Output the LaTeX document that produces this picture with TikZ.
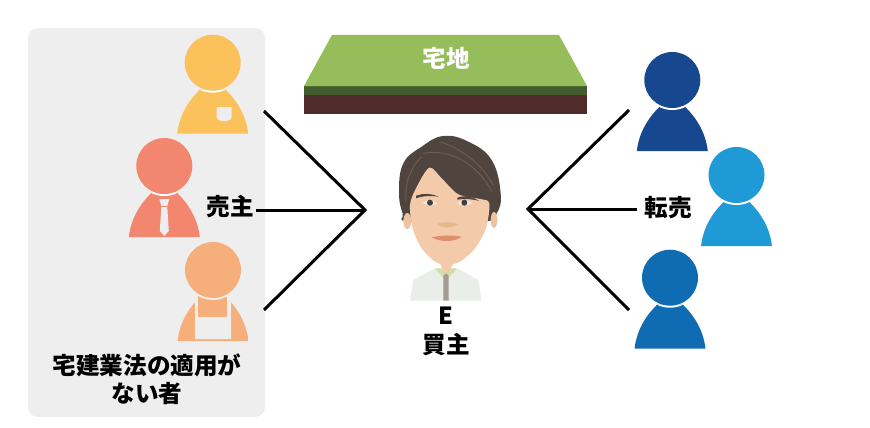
\documentclass[tikz,border=0pt]{standalone}
\usepackage{fontspec}
\setmainfont{Noto Sans CJK JP}
\usetikzlibrary{positioning}
\definecolor{panelgray}{HTML}{EEEEEE}
\definecolor{yellowman}{HTML}{FBC15B}
\definecolor{salmonman}{HTML}{F2866F}
\definecolor{apronman}{HTML}{F6AF7B}
\definecolor{darkblue}{HTML}{17488F}
\definecolor{skyblue}{HTML}{1F9AD6}
\definecolor{midblue}{HTML}{0F6CB2}
\definecolor{landtop}{HTML}{95BE5A}
\definecolor{landmid}{HTML}{425C2E}
\definecolor{landlow}{HTML}{4F2B2B}
\definecolor{hair}{HTML}{4F453E}
\definecolor{hairlight}{HTML}{6B5D52}
\definecolor{skin}{HTML}{F4CBAA}
\definecolor{shirt}{HTML}{E9EEE9}
\definecolor{collar}{HTML}{D5DDA8}
\definecolor{zipper}{HTML}{A39A94}
\tikzset{
	txt/.style={font=\fontsize{23.6}{28}\selectfont\bfseries,inner sep=2pt,align=center},
	edge/.style={color=black,line width=3pt},
	pics/person/.style={code={
		\begin{scope}
			\clip (-35.5,71) .. controls (-33,50) and (-22,36) .. (-13,27) -- (13,27) .. controls (22,36) and (33,50) .. (35.5,71) -- cycle;
			\fill[#1] (-36,25) rectangle (36,72);
			\fill[white] (0,0) circle (30);
		\end{scope}
		\fill[#1] (0,0) circle (28);
	}},
	pics/pocket/.style={code={
		\fill[panelgray] (4,44.5) -- (19,44.5) -- (19,54) .. controls (19,60) and (4,60) .. (4,54) -- cycle;
	}},
	pics/necktie/.style={code={
		\fill[panelgray] (-5,33) -- (5,33) -- (3,40) -- (-3,40) -- cycle;
		\fill[panelgray] (-3,41) -- (3,41) -- (4.5,65) -- (0,70) -- (-4.5,65) -- cycle;
	}},
	pics/apron/.style={code={
		\fill[panelgray] (-18,32) -- (-15,26) -- (15,26) -- (18,32) -- (18,69) -- (-18,69) -- cycle;
		\fill[apronman] (-15,26) rectangle (14,47);
		\fill[panelgray] (0,0) circle (30);
		\fill[apronman] (0,0) circle (28);
	}}
}
\begin{document}
\begin{tikzpicture}[x=1pt,y=-1pt]
	\useasboundingbox (0,0) rectangle (870,428);
	%%%panel
	\fill[panelgray,rounded corners=10pt] (28,28) rectangle (265,417);

	%%%land
	\fill[landlow] (304,95) rectangle (587,114);
	\fill[landmid] (304,86) rectangle (587,95);
	\fill[landtop] (304,86) -- (332,35) -- (559,35) -- (587,86) -- cycle;
	\node[txt,text=white] (land) at (446,58) {宅地};

	%%%sellers
	\pic at (212.7,62.7) {person=yellowman};
	\pic at (212.7,62.7) {pocket};
	\pic at (164.3,166) {person=salmonman};
	\pic at (164.3,166) {necktie};
	\pic at (213,270) {person=apronman};
	\pic at (213,270) {apron};
	\node[txt] (seller) at (230.5,207) {売主};
	\node[txt] (scopetext) at (147,379) {宅建業法の適用が\\ない者};

	%%%resale
	\pic at (672.3,80) {person=darkblue};
	\pic at (736.5,175) {person=skyblue};
	\pic at (670,277.7) {person=midblue};
	\node[txt,inner sep=7pt] (resale) at (668,208) {転売};

	%%%buyer
	\begin{scope}[shift={(380,125)},x=0.3333pt,y=-0.3333pt]
		\fill[shirt] (90,527) -- (100,465) -- (165,430) -- (232,430) -- (295,465) -- (305,527) -- cycle;
		\fill[collar] (165,430) -- (232,430) -- (205,458) -- (190,458) -- cycle;
		\fill[skin] (180,415) -- (220,415) -- (205,442) -- (192,442) -- cycle;
		\fill[zipper] (190,452) -- (198,445) -- (206,452) -- (206,527) -- (190,527) -- cycle;
		\fill[hair] plot[smooth cycle,tension=.7] coordinates {(190,33) (265,50) (335,105) (362,205) (350,265) (310,290) (90,290) (68,265) (57,200) (70,115) (125,65)};
		\draw[hairlight,line width=1pt] (130,85) .. controls (200,70) and (290,110) .. (335,200);
		\draw[hairlight,line width=1pt] (180,50) .. controls (240,70) and (300,110) .. (340,180);
		\draw[hairlight,line width=1pt] (125,95) .. controls (90,130) and (75,170) .. (78,230);
		\fill[skin!88!brown] (82,288) ellipse (12 and 24) (342,285) ellipse (10 and 24);
		\fill[skin] plot[smooth cycle,tension=.5] coordinates {(148,128) (185,160) (235,208) (300,222) (328,235) (318,310) (285,370) (240,410) (200,420) (165,410) (125,370) (98,310) (90,240) (108,190)};
		\fill[hair] (108,212) .. controls (130,204) and (155,205) .. (176,215) .. controls (150,212) and (130,212) .. (108,220) -- cycle;
		\fill[hair] (232,218) .. controls (255,210) and (280,215) .. (298,228) .. controls (275,222) and (255,220) .. (232,224) -- cycle;
		\fill[white!85!brown] (128,233) .. controls (145,222) and (160,224) .. (172,236) .. controls (155,242) and (140,242) .. (128,233) -- cycle;
		\fill[white!85!brown] (232,236) .. controls (245,224) and (262,224) .. (276,234) .. controls (262,242) and (245,242) .. (232,236) -- cycle;
		\fill[black!75] (150,233) circle (9) (253,233) circle (9);
		\fill[skin!75!brown] (170,298) .. controls (185,310) and (215,310) .. (234,298) .. controls (225,290) and (180,290) .. (170,298) -- cycle;
		\fill[red!25!brown!70!white] (155,337) .. controls (185,330) and (215,330) .. (245,335) .. controls (225,352) and (180,352) .. (155,337) -- cycle;
	\end{scope}
	\node[txt] (buyerE) at (446,316) {E};
	\node[txt] (buyer) at (446,345) {買主};

	%%%connectors
	\coordinate (hubL) at (365,210);
	\coordinate (hubR) at (528,209);
	\coordinate (sellerA) at (264,111);
	\coordinate (sellerC) at (264,310);
	\coordinate (resaleA) at (629,110);
	\coordinate (resaleC) at (629,310);
	\draw[edge] (sellerA) -- (hubL) -- (sellerC);
	\draw[edge] (seller.east |- hubL) -- (hubL);
	\draw[edge] (resaleA) -- (hubR) -- (resaleC);
	\draw[edge] (resale.west |- hubR) -- (hubR);
\end{tikzpicture}
\end{document}
